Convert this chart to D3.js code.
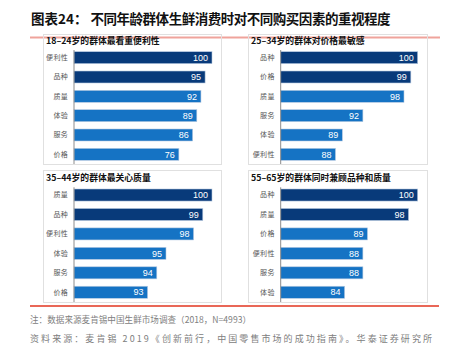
<!DOCTYPE html>
<html><head><meta charset="utf-8">
<script src="https://cdn.jsdelivr.net/npm/d3@7"></script>
<style>
html,body{margin:0;padding:0;background:#fff;}
svg{display:block;}
</style></head>
<body>
<svg id="c" width="457" height="351"></svg>
<script>
const chartTitle = "不同年龄群体生鲜消费时对不同购买因素的重视程度";
const figLabel = "图表24：";
const panelTitles = ["18–24岁的群体最看重便利性","25–34岁的群体对价格最敏感","35–44岁的群体最关心质量","55–65岁的群体同时兼顾品种和质量"];
const cats1 = ["便利性","品种","质量","体验","服务","价格"];
const vals1 = [100,95,92,89,86,76];
const cats2 = ["品种","价格","质量","服务","体验","便利性"];
const vals2 = [100,99,98,92,89,88];
const cats3 = ["质量","品种","便利性","体验","服务","价格"];
const vals3 = [100,99,98,95,94,93];
const cats4 = ["品种","质量","价格","便利性","服务","体验"];
const vals4 = [100,98,89,88,88,84];
const axisMins = [0,80,85,70];
const note = "注：数据来源麦肯锡中国生鲜市场调查（2018，N=4993）";
const source = "资料来源：麦肯锡 2019《创新前行，中国零售市场的成功指南》。华泰证券研究所";

const svg = d3.select("#c");
const CJK = "'Noto Sans CJK SC', 'Noto Sans', sans-serif";
const dark = "#083a7a", light = "#1573c4";

// title
svg.append("text").attr("x",31).attr("y",24)
  .attr("font-family",CJK).attr("font-size",13.5).attr("font-weight","bold").attr("fill","#111")
  .text(figLabel);
svg.append("text").attr("x",90.5).attr("y",24)
  .attr("font-family",CJK).attr("font-size",13.5).attr("font-weight","bold").attr("fill","#111")
  .attr("textLength",300).attr("lengthAdjust","spacing")
  .text(chartTitle);
svg.append("line").attr("x1",30).attr("x2",440).attr("y1",37.5).attr("y2",37.5)
  .attr("stroke","#efa39b").attr("stroke-width",2);

const panels = [
  {x:43,y:34,w:178,h:130,ax:74,end:212,b0:48,b1:164,ty:41,cats:cats1,vals:vals1,min:axisMins[0],title:panelTitles[0]},
  {x:248,y:34,w:179,h:130,ax:280.7,end:417.7,b0:48,b1:164,ty:41,cats:cats2,vals:vals2,min:axisMins[1],title:panelTitles[1]},
  {x:43,y:170,w:178,h:132,ax:74,end:212,b0:185.3,b1:302,ty:177.5,cats:cats3,vals:vals3,min:axisMins[2],title:panelTitles[2]},
  {x:248,y:170,w:179,h:132,ax:280.7,end:417.7,b0:185.3,b1:302,ty:177.5,cats:cats4,vals:vals4,min:axisMins[3],title:panelTitles[3]}
];

panels.forEach(p=>{
  const g = svg.append("g");
  g.append("rect").attr("x",p.x+0.5).attr("y",p.y+0.5).attr("width",p.w).attr("height",p.h)
    .attr("fill","none").attr("stroke","#e0e0e0").attr("stroke-width",1);
  g.append("text").attr("x",p.x+3).attr("y",p.ty+3.3)
    .attr("font-family",CJK).attr("font-size",8.8).attr("font-weight","bold").attr("fill","#111")
    .text(p.title);
  const x = d3.scaleLinear().domain([p.min,100]).range([p.ax,p.end]);
  const y = d3.scaleBand().domain(p.cats).range([p.b0,p.b1]).paddingInner(0.38).paddingOuter(0.19);
  const data = p.cats.map((c,i)=>({c,v:p.vals[i],i}));
  g.selectAll("rect.bar").data(data).join("rect").attr("class","bar")
    .attr("x",x(p.min)).attr("y",d=>y(d.c)).attr("width",d=>x(d.v)-x(p.min)).attr("height",y.bandwidth())
    .attr("fill",d=>d.i<2?dark:light).attr("stroke","#b9cbe2").attr("stroke-width",0.6);
  g.selectAll("text.val").data(data).join("text").attr("class","val")
    .attr("x",d=>x(d.v)-4).attr("y",d=>y(d.c)+y.bandwidth()/2+3.2)
    .attr("text-anchor","end").attr("font-family","Arial, 'Liberation Sans', sans-serif").attr("font-size",9)
    .attr("fill","#fff").text(d=>d.v);
  const yAxis = d3.axisLeft(y).tickSize(0).tickPadding(6);
  const ag = g.append("g").attr("transform",`translate(${p.ax},0)`).call(yAxis);
  ag.select(".domain").attr("stroke","#8c8c8c").attr("d",`M0,${p.b0+2}V${p.b1}`);
  ag.selectAll("text").attr("font-family",CJK).attr("font-size",7).attr("letter-spacing",0.3).attr("fill","#555");
});

svg.append("line").attr("x1",30).attr("x2",439).attr("y1",306).attr("y2",306)
  .attr("stroke","#e2341f").attr("stroke-width",1.3);
svg.append("text").attr("x",30).attr("y",323).attr("font-family",CJK).attr("font-size",8.6)
  .attr("fill","#808080").text(note);
svg.append("text").attr("x",30).attr("y",342).attr("font-family",CJK).attr("font-size",9)
  .attr("textLength",402).attr("lengthAdjust","spacing").attr("fill","#808080").text(source);
</script>
</body></html>
